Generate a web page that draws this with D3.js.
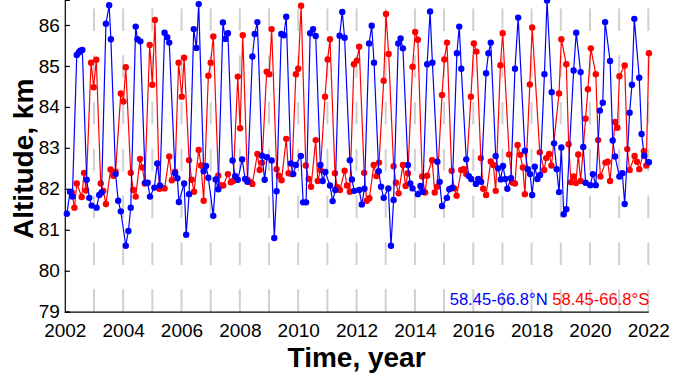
<!DOCTYPE html>
<html>
<head>
<meta charset="utf-8">
<script src="https://d3js.org/d3.v7.min.js"></script>
<style>
    body { margin: 0; background: #fff; }
    svg { display: block; font-family: Arial, "Liberation Sans", sans-serif; }
</style>
</head>
<body>
<div id="chart"></div>
<script>
// ── Data (decimal year, altitude km) ──

var northTime = [2002.07, 2002.18, 2002.26, 2002.41, 2002.48, 2002.53, 2002.60, 2002.75, 2002.84, 2002.92,
    2003.09, 2003.18, 2003.26, 2003.41, 2003.52, 2003.58, 2003.74, 2003.83, 2003.92,
    2004.09, 2004.18, 2004.26, 2004.43, 2004.49, 2004.59, 2004.76, 2004.84, 2004.92,
    2005.07, 2005.17, 2005.26, 2005.42, 2005.51, 2005.58, 2005.78, 2005.86, 2005.91,
    2006.09, 2006.16, 2006.26, 2006.42, 2006.51, 2006.59, 2006.76, 2006.84, 2006.92,
    2007.09, 2007.17, 2007.26, 2007.42, 2007.50, 2007.59, 2007.75, 2007.84, 2007.93,
    2008.08, 2008.18, 2008.26, 2008.43, 2008.51, 2008.60, 2008.76, 2008.85, 2008.93,
    2009.09, 2009.18, 2009.26, 2009.42, 2009.51, 2009.59, 2009.75, 2009.83, 2009.92,
    2010.09, 2010.17, 2010.27, 2010.41, 2010.51, 2010.60, 2010.76, 2010.84, 2010.93,
    2011.09, 2011.18, 2011.27, 2011.42, 2011.51, 2011.59, 2011.77, 2011.84, 2011.92,
    2012.09, 2012.18, 2012.27, 2012.43, 2012.52, 2012.60, 2012.76, 2012.84, 2012.93,
    2013.09, 2013.18, 2013.27, 2013.43, 2013.51, 2013.59, 2013.76, 2013.84, 2013.92,
    2014.10, 2014.19, 2014.27, 2014.42, 2014.52, 2014.60, 2014.77, 2014.85, 2014.93,
    2015.10, 2015.18, 2015.28, 2015.44, 2015.52, 2015.59, 2015.76, 2015.85, 2015.93,
    2016.09, 2016.17, 2016.27, 2016.44, 2016.52, 2016.60, 2016.77, 2016.85, 2016.94,
    2017.02, 2017.10, 2017.17, 2017.29, 2017.43, 2017.54, 2017.77, 2017.87, 2017.95,
    2018.02, 2018.11, 2018.20, 2018.29, 2018.44, 2018.53, 2018.69, 2018.77, 2018.86, 2018.94,
    2019.02, 2019.10, 2019.19, 2019.44, 2019.53, 2019.68, 2019.77, 2019.85,
    2020.01, 2020.10, 2020.20, 2020.34, 2020.44, 2020.52, 2020.69, 2020.78, 2020.86,
    2021.01, 2021.11, 2021.19, 2021.36, 2021.44, 2021.52, 2021.69, 2021.77, 2021.86, 2022.02];

var northAlt = [81.39, 81.93, 81.81, 85.27, 85.33, 85.37, 85.39, 82.22, 81.78, 81.59,
    81.54, 81.85, 81.91, 86.03, 86.48, 85.65, 82.36, 81.71, 81.45,
    80.61, 80.97, 81.54, 85.96, 85.65, 85.60, 82.15, 82.15, 81.81,
    82.03, 82.62, 82.08, 85.81, 85.70, 85.57, 82.38, 82.26, 81.68,
    82.13, 80.88, 81.87, 85.90, 85.44, 86.51, 82.43, 82.56, 82.27,
    81.34, 82.23, 81.99, 86.06, 85.66, 85.80, 82.69, 82.31, 82.22,
    82.72, 82.24, 82.17, 85.23, 85.78, 86.07, 82.81, 82.22, 82.77,
    82.69, 80.80, 81.94, 85.78, 85.75, 86.20, 82.62, 82.36, 82.58,
    82.80, 81.67, 81.67, 85.80, 85.90, 85.73, 82.58, 82.19, 82.41,
    82.08, 81.70, 81.97, 85.74, 86.32, 85.69, 82.70, 82.23, 81.95,
    81.97, 81.62, 82.00, 85.55, 85.98, 85.08, 82.43, 82.05, 81.78,
    82.01, 80.61, 81.73, 85.55, 85.67, 85.43, 82.58, 82.13, 82.01,
    81.87, 82.07, 81.93, 85.04, 86.33, 85.08, 82.66, 82.17, 81.58,
    81.78, 81.99, 82.03, 85.31, 85.96, 84.93, 82.72, 82.31, 82.24,
    82.12, 82.24, 82.17, 84.82, 85.31, 85.57, 82.80, 82.50, 82.23,
    82.56, 82.24, 82.00, 82.26, 84.93, 86.18, 82.93, 82.48, 82.36,
    81.85, 82.54, 82.24, 82.34, 84.80, 86.60, 84.36, 83.11, 82.48, 81.92,
    83.01, 81.38, 81.50, 84.89, 85.81, 84.85, 83.02, 82.15,
    82.09, 82.36, 82.09, 83.91, 84.10, 86.07, 85.12, 83.18, 82.79,
    82.30, 82.38, 81.63, 83.86, 84.54, 86.15, 84.71, 83.34, 82.81, 82.65];

var southTime = [2002.24, 2002.33, 2002.41, 2002.58, 2002.66, 2002.73, 2002.90, 2002.99,
    2003.08, 2003.23, 2003.32, 2003.41, 2003.57, 2003.66, 2003.74, 2003.92,
    2004.01, 2004.09, 2004.26, 2004.35, 2004.43, 2004.58, 2004.66, 2004.74, 2004.91,
    2005.00, 2005.09, 2005.24, 2005.33, 2005.42, 2005.58, 2005.67, 2005.78, 2005.90,
    2006.01, 2006.09, 2006.26, 2006.35, 2006.43, 2006.59, 2006.67, 2006.76, 2006.92,
    2007.00, 2007.09, 2007.26, 2007.34, 2007.43, 2007.59, 2007.69, 2007.77, 2007.93,
    2008.01, 2008.10, 2008.26, 2008.35, 2008.43, 2008.60, 2008.68, 2008.76, 2008.92,
    2009.01, 2009.09, 2009.26, 2009.34, 2009.43, 2009.59, 2009.67, 2009.78, 2009.92,
    2010.00, 2010.10, 2010.26, 2010.36, 2010.44, 2010.60, 2010.67, 2010.76, 2010.92,
    2011.01, 2011.09, 2011.26, 2011.34, 2011.43, 2011.59, 2011.67, 2011.77, 2011.91,
    2012.01, 2012.09, 2012.26, 2012.35, 2012.44, 2012.59, 2012.68, 2012.77, 2012.93,
    2013.01, 2013.10, 2013.27, 2013.35, 2013.44, 2013.59, 2013.68, 2013.76, 2013.92,
    2014.01, 2014.10, 2014.25, 2014.35, 2014.42, 2014.59, 2014.68, 2014.76, 2014.93,
    2015.01, 2015.10, 2015.26, 2015.35, 2015.43, 2015.59, 2015.67, 2015.76, 2015.92,
    2016.02, 2016.11, 2016.26, 2016.34, 2016.44, 2016.60, 2016.69, 2016.77, 2016.93,
    2017.01, 2017.23, 2017.35, 2017.43, 2017.52, 2017.61, 2017.70, 2017.77, 2017.94,
    2018.02, 2018.28, 2018.43, 2018.50, 2018.60, 2018.68, 2018.94,
    2019.02, 2019.19, 2019.27, 2019.35, 2019.44, 2019.52, 2019.60, 2019.68, 2019.85, 2019.93,
    2020.03, 2020.20, 2020.28, 2020.36, 2020.53, 2020.61, 2020.69, 2020.86, 2020.94,
    2021.01, 2021.19, 2021.28, 2021.36, 2021.53, 2021.61, 2021.69, 2021.85, 2021.93, 2022.02];

var southAlt = [81.91, 81.54, 82.13, 81.80, 82.39, 81.96, 85.08, 84.48,
    85.15, 82.13, 81.95, 81.63, 82.47, 82.32, 82.42, 84.33,
    84.13, 84.97, 82.39, 81.97, 81.81, 82.73, 82.52, 82.13, 85.51,
    84.54, 86.12, 82.00, 82.03, 82.01, 82.79, 82.21, 82.42, 85.08,
    84.25, 85.20, 82.70, 82.22, 81.93, 82.95, 82.57, 81.71, 84.76,
    85.08, 85.72, 82.32, 82.08, 82.08, 82.36, 82.16, 82.19, 84.74,
    83.48, 85.75, 82.22, 82.17, 82.12, 82.85, 82.46, 82.64, 84.86,
    84.80, 85.90, 82.48, 82.32, 82.21, 83.22, 82.38, 82.36, 84.80,
    84.93, 86.47, 82.57, 82.24, 82.05, 83.19, 82.19, 82.46, 84.25,
    85.16, 85.65, 82.38, 82.04, 81.97, 82.44, 82.08, 81.93, 85.04,
    85.13, 85.47, 82.39, 81.71, 81.77, 82.58, 82.31, 82.64, 84.64,
    86.27, 85.29, 82.55, 82.15, 81.89, 82.58, 82.07, 82.38, 84.98,
    85.83, 85.64, 82.30, 81.91, 82.32, 82.70, 81.91, 82.05, 84.29,
    85.16, 85.57, 82.44, 82.01, 81.83, 82.46, 82.48, 82.36, 84.25,
    85.55, 85.35, 82.75, 82.00, 81.85, 82.67, 82.58, 81.95, 85.02,
    85.80, 82.84, 82.15, 82.13, 83.07, 82.83, 82.52, 81.87, 84.55,
    85.94, 82.89, 82.46, 82.75, 82.85, 82.57, 84.33,
    85.65, 85.04, 83.09, 82.16, 82.30, 82.14, 82.84, 82.19, 83.71, 84.43,
    85.43, 84.80, 83.19, 82.30, 82.64, 82.66, 82.19, 83.63, 83.49,
    84.75, 85.01, 82.97, 82.46, 82.80, 82.66, 82.48, 82.92, 82.57, 85.31];

var yearTicks = [2002, 2004, 2006, 2008, 2010, 2012, 2014, 2016, 2018, 2020, 2022];
var gridYears = [2003, 2004, 2005, 2006, 2007, 2008, 2009, 2010, 2011, 2012,
    2013, 2014, 2015, 2016, 2017, 2018, 2019, 2020, 2021, 2022];
var altTicks = [79, 80, 81, 82, 83, 84, 85, 86];
var seriesNames = ['58.45-66.8\u00B0N', '58.45-66.8\u00B0S'];
var seriesColors = ['#0000ff', '#ff0000'];

(function() {
    'use strict';

    // ── Layout ──
    var width = 689, height = 378;
    var plotLeft = 64.8, plotRight = 648.3, plotTop = 0, plotBottom = 311.7;

    var svg = d3.select('#chart').append('svg')
        .attr('width', width)
        .attr('height', height);

    var x = d3.scaleLinear().domain([2002, 2022]).range([plotLeft, plotRight]);
    var y = d3.scaleLinear().domain([79, 86.61]).range([plotBottom, plotTop]);

    // dashed grey year lines (drawn from the bottom up)
    svg.append('g').selectAll('line')
        .data(gridYears)
        .enter().append('line')
        .attr('x1', function(d) { return x(d); })
        .attr('x2', function(d) { return x(d); })
        .attr('y1', plotBottom)
        .attr('y2', plotTop)
        .style('stroke', '#d0d0d0')
        .style('stroke-width', 2)
        .style('stroke-dasharray', '22.5,24.3');

    // axes
    var yAxis = svg.append('g')
        .attr('transform', 'translate(' + plotLeft + ',0)')
        .call(d3.axisLeft(y).tickValues(altTicks).tickSize(-5).tickPadding(5).tickFormat(d3.format('d')));

    var xAxis = svg.append('g')
        .attr('transform', 'translate(0,' + plotBottom + ')')
        .call(d3.axisBottom(x).tickValues(yearTicks).tickSize(0).tickPadding(12).tickFormat(d3.format('d')));

    [yAxis, xAxis].forEach(function(ax) {
        ax.selectAll('text').style('font-size', '19px').style('fill', '#000');
        ax.selectAll('path, line').style('stroke', '#000').style('stroke-width', 1.2);
    });

    // series: line with filled dot markers
    function drawSeries(times, alts, color) {
        var pts = times.map(function(t, i) { return [t, alts[i]]; });
        var line = d3.line()
            .x(function(d) { return x(d[0]); })
            .y(function(d) { return y(d[1]); });

        var g = svg.append('g');
        g.append('path')
            .datum(pts)
            .attr('d', line)
            .style('fill', 'none')
            .style('stroke', color)
            .style('stroke-width', 1.2);

        g.selectAll('circle')
            .data(pts)
            .enter().append('circle')
            .attr('cx', function(d) { return x(d[0]); })
            .attr('cy', function(d) { return y(d[1]); })
            .attr('r', 3.2)
            .style('fill', color);
    }

    // south first so the north series sits on top, as in the reference
    drawSeries(southTime, southAlt, seriesColors[1]);
    drawSeries(northTime, northAlt, seriesColors[0]);

    // legend text, right aligned at the end of the axis
    var legend = svg.append('text')
        .attr('x', plotRight + 1)
        .attr('y', 305)
        .attr('text-anchor', 'end')
        .style('font-size', '16.6px');
    legend.append('tspan').style('fill', seriesColors[0]).text(seriesNames[0]);
    legend.append('tspan').style('fill', seriesColors[1]).text(' ' + seriesNames[1]);

    // axis titles
    svg.append('text')
        .attr('x', (plotLeft + plotRight) / 2)
        .attr('y', 367)
        .attr('text-anchor', 'middle')
        .style('font-size', '28px')
        .style('font-weight', 'bold')
        .text('Time, year');

    svg.append('text')
        .attr('transform', 'translate(33,' + (plotBottom / 2 + 3) + ') rotate(-90)')
        .attr('text-anchor', 'middle')
        .style('font-size', '28px')
        .style('font-weight', 'bold')
        .text('Altitude, km');
})();
</script>
</body>
</html>
